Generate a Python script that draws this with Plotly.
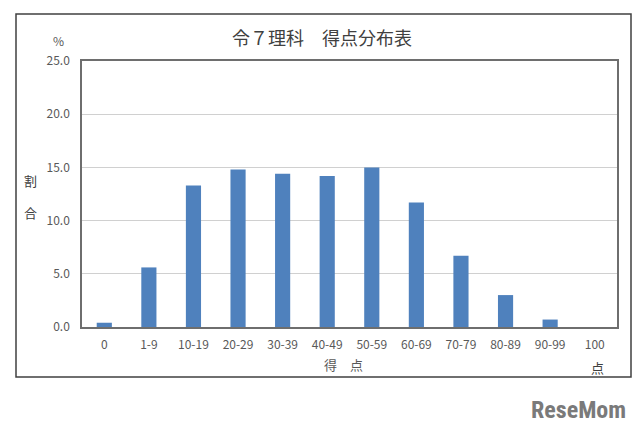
import plotly.graph_objects as go

categories = ["0", "1-9", "10-19", "20-29", "30-39", "40-49", "50-59",
              "60-69", "70-79", "80-89", "90-99", "100"]
values = [0.4, 5.6, 13.3, 14.8, 14.4, 14.2, 15.0, 11.7, 6.7, 3.0, 0.7, 0.0]
y_ticks = [0, 5, 10, 15, 20, 25]
y_tick_labels = ["0.0", "5.0", "10.0", "15.0", "20.0", "25.0"]

FONT = "Noto Sans CJK JP"
W, H = 640, 433
L, R, T, B = 82, 23, 61, 106
pw, ph = W - L - R, H - T - B

def px(x):
    return (x - L) / pw

def py(y):
    return (H - B - y) / ph

fig = go.Figure(go.Bar(
    x=categories, y=values,
    marker=dict(color="#4f81bd", line=dict(width=0)),
    width=0.34,
))

fig.update_layout(
    width=W, height=H,
    margin=dict(l=L, r=R, t=T, b=B),
    paper_bgcolor="white", plot_bgcolor="white",
    showlegend=False,
    font=dict(family=FONT, color="#595959", size=12),
    xaxis=dict(
        showline=True, mirror=True, linecolor="#6e6e6e", linewidth=1.5,
        showgrid=False, ticks="", tickfont=dict(size=12, color="#595959"),
        ticklabelstandoff=6,
    ),
    yaxis=dict(
        range=[0, 25], tickvals=y_ticks, ticktext=y_tick_labels,
        showline=True, mirror=True, linecolor="#6e6e6e", linewidth=1.5,
        showgrid=True, gridcolor="#d0d0d0", gridwidth=1,
        ticks="", tickfont=dict(size=12, color="#595959"),
        zeroline=False, ticklabelstandoff=8,
    ),
)

fig.add_shape(type="rect", xref="paper", yref="paper",
              x0=px(16), x1=px(631), y0=py(14), y1=py(377),
              line=dict(color="#404040", width=1.5), layer="below")

annots = [
    ("令７理科　得点分布表", 322, 37, 18, "#404040"),
    ("%", 58, 41, 12, "#595959"),
    ("割", 30, 180, 13, "#404040"),
    ("合", 30, 212, 13, "#404040"),
    ("得　点", 343, 364, 13, "#595959"),
    ("点", 597, 367, 13, "#404040"),
]
for text, x, y, size, color in annots:
    fig.add_annotation(text=text, xref="paper", yref="paper",
                       x=px(x), y=py(y), xanchor="center", yanchor="middle",
                       showarrow=False, font=dict(size=size, color=color, family=FONT))

fig.add_annotation(text="<b>ReseMom</b>", xref="paper", yref="paper",
                   x=px(578), y=py(410), xanchor="center", yanchor="middle",
                   showarrow=False,
                   font=dict(size=24, color="#7a7a7a", family="Roboto Condensed, Roboto, Arial Narrow, sans-serif"))

fig.write_html("out.html",
               config={"displayModeBar": False},
               post_script="document.body.style.margin='0';document.body.style.overflow='hidden';")
